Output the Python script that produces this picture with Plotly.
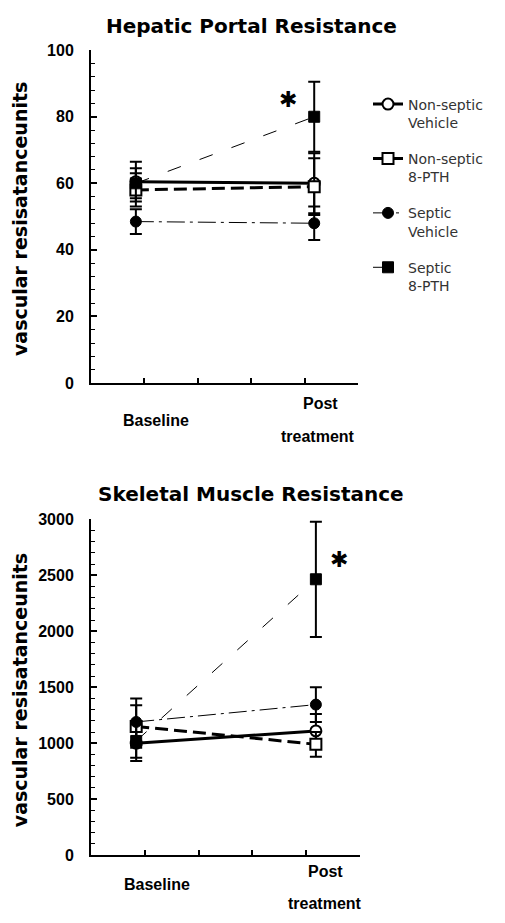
import plotly.graph_objects as go

W, H = 505, 923


def px_x(p):
    return p / W


def px_y(p):
    return 1 - p / H


# ---------------- data ----------------
time_points = ["Baseline", "Post treatment"]
series_names = ["Non-septic<br>Vehicle", "Non-septic<br>8-PTH", "Septic<br>Vehicle", "Septic<br>8-PTH"]

hep_ns_vehicle = [60.5, 60.0]
hep_ns_vehicle_err = [6.0, 9.0]
hep_ns_pth = [58.0, 59.0]
hep_ns_pth_err = [5.0, 8.5]
hep_s_vehicle = [48.5, 48.0]
hep_s_vehicle_err = [3.7, 5.0]
hep_s_pth = [60.0, 80.0]
hep_s_pth_err = [4.5, 10.5]

sk_ns_vehicle = [1000, 1110]
sk_ns_vehicle_err = [160, 150]
sk_ns_pth = [1150, 990]
sk_ns_pth_err = [190, 110]
sk_s_vehicle = [1190, 1345]
sk_s_vehicle_err = [210, 155]
sk_s_pth = [1020, 2465]
sk_s_pth_err = [150, 515]

hep_ticks = [0, 20, 40, 60, 80, 100]
sk_ticks = [0, 500, 1000, 1500, 2000, 2500, 3000]

x_of = {"Baseline": 0.84, "Post treatment": 4.18}
xs = [x_of[t] for t in time_points]

styles = [
    dict(line=dict(color="black", width=3, dash="solid"),
         marker=dict(symbol="circle", size=11, color="white", line=dict(color="black", width=2))),
    dict(line=dict(color="black", width=3, dash="13px,6px"),
         marker=dict(symbol="square", size=11, color="white", line=dict(color="black", width=2))),
    dict(line=dict(color="black", width=1, dash="18px,5px,3px,5px"),
         marker=dict(symbol="circle", size=11, color="black", line=dict(color="black", width=1))),
    dict(line=dict(color="black", width=1, dash="14px,20px"),
         marker=dict(symbol="square", size=11, color="black", line=dict(color="black", width=1))),
]

fig = go.Figure()

hep = [(hep_ns_vehicle, hep_ns_vehicle_err), (hep_ns_pth, hep_ns_pth_err),
       (hep_s_vehicle, hep_s_vehicle_err), (hep_s_pth, hep_s_pth_err)]
sk = [(sk_ns_vehicle, sk_ns_vehicle_err), (sk_ns_pth, sk_ns_pth_err),
      (sk_s_vehicle, sk_s_vehicle_err), (sk_s_pth, sk_s_pth_err)]

for i, (vals, err) in enumerate(hep):
    fig.add_trace(go.Scatter(
        x=xs, y=vals, mode="lines+markers", name=series_names[i],
        legendgroup=f"g{i}", showlegend=True,
        line=styles[i]["line"], marker=styles[i]["marker"],
        error_y=dict(type="data", array=err, color="black", thickness=2, width=6),
        xaxis="x", yaxis="y"))

for i, (vals, err) in enumerate(sk):
    fig.add_trace(go.Scatter(
        x=xs, y=vals, mode="lines+markers", name=series_names[i],
        legendgroup=f"g{i}", showlegend=False,
        line=styles[i]["line"], marker=styles[i]["marker"],
        error_y=dict(type="data", array=err, color="black", thickness=2, width=6),
        xaxis="x2", yaxis="y2"))

tick_font = dict(family="Liberation Sans, Arial", size=16, color="black", weight="bold")

axis_common = dict(showline=True, linewidth=2, linecolor="black", ticks="inside",
                   tickwidth=2, tickcolor="black", showgrid=False, zeroline=False)

xaxis_common = dict(axis_common, range=[0, 5], tickvals=[1, 2, 3, 4], ticklen=5,
                    showticklabels=False)

fig.update_layout(
    width=W, height=H,
    margin=dict(l=0, r=0, t=0, b=0),
    paper_bgcolor="white", plot_bgcolor="white",
    showlegend=True,
    legend=dict(x=px_x(368), y=px_y(82), xanchor="left", yanchor="top",
                font=dict(family="DejaVu Sans", size=14, color="#333"),
                valign="top", tracegroupgap=15, traceorder="grouped",
                bgcolor="rgba(0,0,0,0)", itemwidth=30),
    xaxis=dict(xaxis_common, domain=[px_x(91), px_x(358)], anchor="y"),
    yaxis=dict(axis_common, domain=[px_y(382), px_y(43)], range=[0, 100], anchor="x",
               tickvals=hep_ticks, ticklen=6, tickfont=tick_font, ticklabelstandoff=12,
               minor=dict(dtick=4, ticks="inside", ticklen=4, tickwidth=1, tickcolor="black")),
    xaxis2=dict(xaxis_common, domain=[px_x(91), px_x(360)], anchor="y2"),
    yaxis2=dict(axis_common, domain=[px_y(863), px_y(521)], range=[0, 3000], anchor="x2",
                tickvals=sk_ticks, ticklen=6, tickfont=tick_font, ticklabelstandoff=12,
                minor=dict(dtick=100, ticks="inside", ticklen=4, tickwidth=1, tickcolor="black")),
)

title_font = dict(family="DejaVu Sans", size=20, color="black", weight="bold")
label_font = dict(family="Liberation Sans, Arial", size=16, color="black", weight="bold")
ytitle_font = dict(family="DejaVu Sans", size=19, color="black", weight="bold")

ann = []
ann.append(dict(text="Hepatic Portal Resistance", x=px_x(251), y=px_y(18), font=title_font))
ann.append(dict(text="Skeletal Muscle Resistance", x=px_x(251), y=px_y(495), font=title_font))
ann.append(dict(text="vascular resisatanceunits", x=px_x(20), y=px_y(215), textangle=-90, font=ytitle_font))
ann.append(dict(text="vascular resisatanceunits", x=px_x(20), y=px_y(695), textangle=-90, font=ytitle_font))
ann.append(dict(text="Baseline", x=px_x(156), y=px_y(420), font=label_font))
ann.append(dict(text="Post", x=px_x(320), y=px_y(403), font=label_font))
ann.append(dict(text="treatment", x=px_x(318), y=px_y(437), font=label_font))
ann.append(dict(text="Baseline", x=px_x(157), y=px_y(893), font=label_font))
ann.append(dict(text="Post", x=px_x(325), y=px_y(880), font=label_font))
ann.append(dict(text="treatment", x=px_x(325), y=px_y(912), font=label_font))
ann.append(dict(text="✱", x=px_x(288), y=px_y(93), font=dict(family="DejaVu Sans", size=22, color="black")))
ann.append(dict(text="✱", x=px_x(339), y=px_y(562), font=dict(family="DejaVu Sans", size=22, color="black")))

for a in ann:
    a.update(xref="paper", yref="paper", showarrow=False, xanchor="center", yanchor="middle")
fig.update_layout(annotations=ann)

fig.write_html("out.html",
               config={"displayModeBar": False},
               post_script="document.body.style.margin='0';document.body.style.overflow='hidden';")
